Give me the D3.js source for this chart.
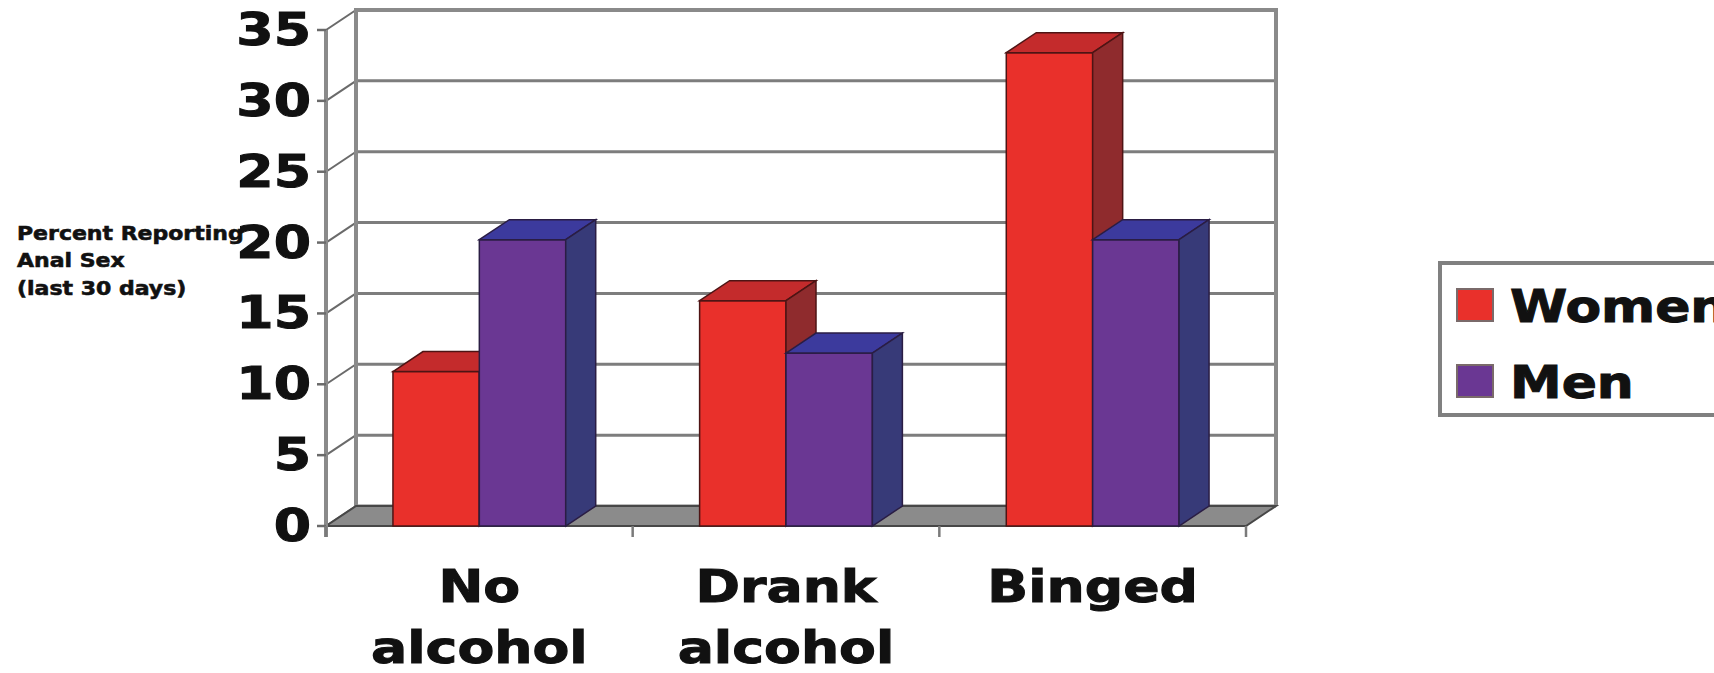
<!DOCTYPE html>
<html>
<head>
<meta charset="utf-8">
<script src="https://cdn.jsdelivr.net/npm/d3@7"></script>
<style>
  html, body { margin: 0; padding: 0; background: #fff; }
  svg { display: block; }
  .heavy { font-family: "DejaVu Sans", sans-serif; font-weight: bold; fill: #111; stroke: #111; }
</style>
</head>
<body>
<svg id="chart" width="1714" height="673"></svg>
<script>
// Chart data
const categories = ["No alcohol", "Drank alcohol", "Binged"];
const categoryLines = [["No", "alcohol"], ["Drank", "alcohol"], ["Binged"]];
const seriesNames = ["Women", "Men"];
const women = [10.9, 15.9, 33.4];
const men = [20.2, 12.2, 20.2];
const yTicks = [0, 5, 10, 15, 20, 25, 30, 35];
const titleLines = ["Percent Reporting", "Anal Sex", "(last 30 days)"];

const seriesValues = [women, men];

// Face colours per series: front, top, side, edge
const palette = {
  Women: { front: "#e9302b", top: "#c42b2c", side: "#8f2b2d", edge: "#4e1414" },
  Men:   { front: "#6a3793", top: "#3c3a9d", side: "#373a78", edge: "#2a1d44" }
};

const svg = d3.select("#chart");

// 3D depth offset of the plot box
const dx = 30, dy = -20;
const sx = 1.22; // horizontal stretch of the heavy lettering

const y = d3.scaleLinear().domain([0, 35]).range([526, 30]);
const x0 = d3.scaleBand().domain(categories).range([326, 1246]);
const x1 = d3.scaleBand().domain(seriesNames).range([0, x0.bandwidth()]).paddingOuter(0.775);

const left = x0.range()[0], right = x0.range()[1];
const y0 = y(0), yMax = y(35);

const gridColor = "#7d7d7d";

// Back wall
svg.append("rect")
  .attr("x", left + dx).attr("y", yMax + dy)
  .attr("width", right - left).attr("height", y0 - yMax)
  .attr("fill", "#fff");

// Gridlines on back wall
svg.append("g").selectAll("line").data(yTicks).join("line")
  .attr("x1", left + dx).attr("x2", right + dx)
  .attr("y1", d => y(d) + dy).attr("y2", d => y(d) + dy)
  .attr("stroke", gridColor).attr("stroke-width", 3);

// Gridlines on side wall
svg.append("g").selectAll("line").data(yTicks).join("line")
  .attr("x1", left).attr("x2", left + dx)
  .attr("y1", d => y(d)).attr("y2", d => y(d) + dy)
  .attr("stroke", "#6a6a6a").attr("stroke-width", 2);

// Back wall edges
svg.append("path")
  .attr("d", `M${left + dx},${y0 + dy}V${yMax + dy}H${right + dx}V${y0 + dy}`)
  .attr("fill", "none").attr("stroke", "#8a8a8a").attr("stroke-width", 4);

// Floor
svg.append("polygon")
  .attr("points", [[left, y0], [right, y0], [right + dx, y0 + dy], [left + dx, y0 + dy]].join(" "))
  .attr("fill", "#8b8b8b").attr("stroke", "#474747").attr("stroke-width", 2);

// Front vertical axis
svg.append("line")
  .attr("x1", left).attr("x2", left)
  .attr("y1", yMax).attr("y2", y0 + 11)
  .attr("stroke", "#8a8a8a").attr("stroke-width", 4);

svg.append("g").selectAll("line").data(yTicks).join("line")
  .attr("x1", left - 9).attr("x2", left)
  .attr("y1", d => y(d)).attr("y2", d => y(d))
  .attr("stroke", "#6a6a6a").attr("stroke-width", 2.5);

// Category axis ticks
const bounds = categories.map(c => x0(c)).concat([right]);
svg.append("g").selectAll("line").data(bounds).join("line")
  .attr("x1", d => d).attr("x2", d => d)
  .attr("y1", y0).attr("y2", y0 + 11)
  .attr("stroke", "#7a7a7a").attr("stroke-width", 2.5);

// Bars
const bars = [];
categories.forEach((c, i) => {
  seriesNames.forEach((s, j) => bars.push({ cat: c, series: s, value: seriesValues[j][i] }));
});

const barG = svg.append("g").selectAll("g").data(bars).join("g");
barG.each(function (d) {
  const g = d3.select(this);
  const col = palette[d.series];
  const bx = x0(d.cat) + x1(d.series);
  const w = x1.bandwidth();
  const yt = y(d.value);
  g.append("rect")
    .attr("x", bx).attr("y", yt).attr("width", w).attr("height", y0 - yt)
    .attr("fill", col.front).attr("stroke", col.edge).attr("stroke-width", 1.5);
  g.append("polygon")
    .attr("points", [[bx, yt], [bx + dx, yt + dy], [bx + w + dx, yt + dy], [bx + w, yt]].join(" "))
    .attr("fill", col.top).attr("stroke", col.edge).attr("stroke-width", 1.5);
  g.append("polygon")
    .attr("points", [[bx + w, yt], [bx + w + dx, yt + dy], [bx + w + dx, y0 + dy], [bx + w, y0]].join(" "))
    .attr("fill", col.side).attr("stroke", col.edge).attr("stroke-width", 1.5);
});

// Value tick labels
svg.append("g").selectAll("g").data(yTicks).join("g")
  .attr("transform", d => `translate(${left - 15},${y(d) + 15}) scale(${sx},1)`)
  .append("text")
  .attr("class", "heavy")
  .attr("text-anchor", "end")
  .attr("font-size", 44)
  .attr("stroke-width", 1)
  .text(d => d);

// Category labels
svg.append("g").selectAll("g").data(categories).join("g")
  .attr("transform", (d) => `translate(${x0(d) + x0.bandwidth() / 2},602) scale(${sx},1)`)
  .each(function (d, i) {
    d3.select(this).selectAll("text").data(categoryLines[i]).join("text")
      .attr("class", "heavy")
      .attr("text-anchor", "middle")
      .attr("font-size", 44)
      .attr("stroke-width", 1)
      .attr("y", (t, k) => k * 61)
      .text(t => t);
  });

// Axis title
svg.append("g")
  .attr("transform", `translate(17,240) scale(1.1,1)`)
  .selectAll("text").data(titleLines).join("text")
  .attr("class", "heavy")
  .attr("font-size", 20)
  .attr("stroke-width", 0.6)
  .attr("fill", "#222").attr("stroke", "#222")
  .attr("y", (t, k) => k * 27.5)
  .text(t => t);

// Legend
const legend = svg.append("g").attr("transform", "translate(1440,263)");
legend.append("rect")
  .attr("width", 320).attr("height", 152)
  .attr("fill", "#fff").attr("stroke", "#808080").attr("stroke-width", 4);
const items = legend.selectAll("g").data(seriesNames).join("g")
  .attr("transform", (d, i) => `translate(17,${26 + i * 76})`);
items.append("rect")
  .attr("width", 36).attr("height", 32)
  .attr("fill", d => palette[d].front)
  .attr("stroke", "#7a6a6a").attr("stroke-width", 2);
items.append("g")
  .attr("transform", `translate(53,33) scale(1.18,1)`)
  .append("text")
  .attr("class", "heavy")
  .attr("font-size", 44)
  .attr("stroke-width", 1)
  .text(d => d);
</script>
</body>
</html>
